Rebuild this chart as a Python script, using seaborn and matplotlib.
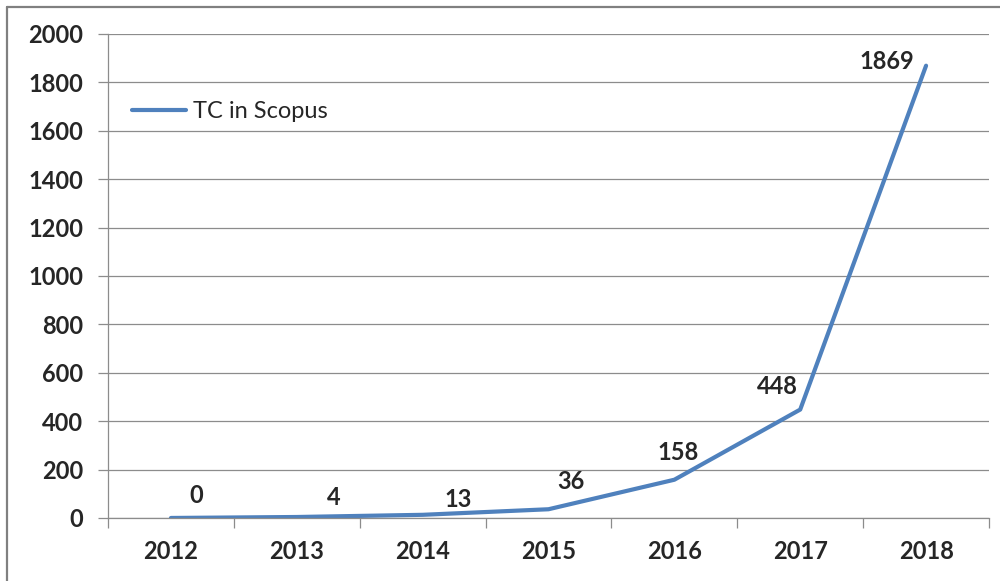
import matplotlib.pyplot as plt
import pandas as pd
import seaborn as sns
from matplotlib.lines import Line2D

years = ["2012", "2013", "2014", "2015", "2016", "2017", "2018"]
tc_scopus = [0, 4, 13, 36, 158, 448, 1869]
series_name = "TC in Scopus"

sns.set_style("white")
plt.rcParams["font.family"] = ["Lato", "DejaVu Sans"]

df = pd.DataFrame({"year": years, "tc": tc_scopus})

blue = "#4F81BD"
grid_gray = "#8c8c8c"

fig = plt.figure(figsize=(10, 5.81), dpi=100)
ax = fig.add_axes([0.108, 0.1085, 0.881, 0.8330])

sns.lineplot(data=df, x="year", y="tc", ax=ax, color=blue, linewidth=3.0,
             label=series_name, sort=False)

ax.set_xlim(-0.5, len(years) - 0.5)
ax.set_ylim(0, 2000)
ax.set_yticks(range(0, 2001, 200))
ax.set_xticks(range(len(years)))
ax.set_xticklabels(years)
ax.set_xticks([i - 0.5 for i in range(len(years) + 1)], minor=True)
ax.set_xlabel("")
ax.set_ylabel("")

ax.yaxis.grid(True, color=grid_gray, linewidth=0.9)
ax.set_axisbelow(True)
for side in ["top", "right"]:
    ax.spines[side].set_visible(False)
for side in ["left", "bottom"]:
    ax.spines[side].set_color(grid_gray)
    ax.spines[side].set_linewidth(0.9)

ax.tick_params(axis="y", which="major", direction="out", length=7, width=0.9,
               color=grid_gray, pad=11, labelsize=17, left=True)
ax.tick_params(axis="x", which="major", length=0, pad=16, labelsize=17)
ax.tick_params(axis="x", which="minor", direction="out", length=7, width=0.9,
               color=grid_gray, bottom=True)
for lab in ax.get_xticklabels() + ax.get_yticklabels():
    lab.set_fontweight("bold")

# data labels, nudged by hand like in the original
label_offsets = [(25, 22), (37, 19), (36, 15), (22, 28), (4, 27), (-23, 23), (-39, 4)]
for i, (v, off) in enumerate(zip(tc_scopus, label_offsets)):
    ax.annotate(str(v), xy=(i, v), xytext=off, textcoords="offset pixels",
                ha="center", va="center", fontsize=17, fontweight="bold")

ax.legend(loc="upper left", bbox_to_anchor=(0.0, 0.91), frameon=False,
          fontsize=17, handlelength=2.3, handletextpad=0.3,
          borderaxespad=0.0, borderpad=1.0)

# outer chart frame (clipped at right and bottom in the source)
fig.add_artist(Line2D([0.007, 1.0], [0.988, 0.988], color="#808080", linewidth=1.6,
                      transform=fig.transFigure))
fig.add_artist(Line2D([0.007, 0.007], [0.0, 0.988], color="#808080", linewidth=1.6,
                      transform=fig.transFigure))

fig.savefig("out.png", dpi=100)
